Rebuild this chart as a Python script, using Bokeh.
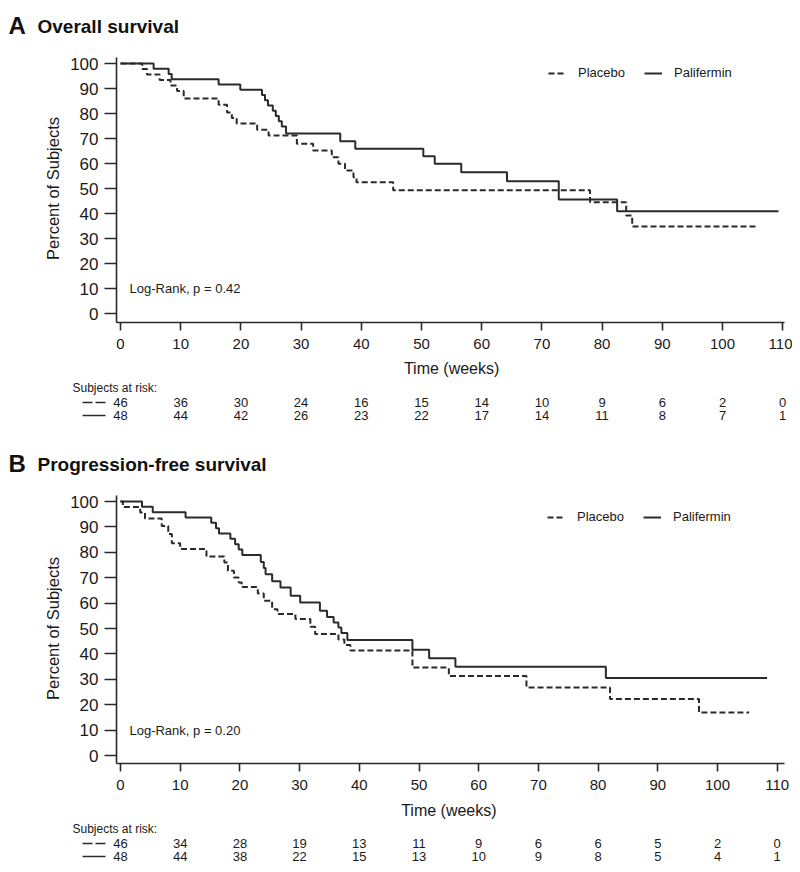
import math
from bokeh.plotting import figure
from bokeh.models import Range1d, Legend, LegendItem, Label, FixedTicker
from bokeh.layouts import column
from bokeh.embed import file_html
from bokeh.resources import INLINE
from bokeh.core.properties import value

FONT = "Liberation Sans"
INK = "#2a2a2a"
TXT = "#1a1a1a"

# ---------------- data ----------------
week_ticks = [0, 10, 20, 30, 40, 50, 60, 70, 80, 90, 100, 110]
pct_ticks = [0, 10, 20, 30, 40, 50, 60, 70, 80, 90, 100]

# Panel A - overall survival (step times in weeks, percent surviving)
a_pla_t = [0, 3.6, 4.4, 6.5, 8.3, 9.4, 10.5, 16.3, 17.7, 18.5, 19.3, 22.7, 24.6,
           29.3, 32.0, 35.1, 36.2, 37.3, 38.7, 39.2, 45.3, 78.0, 84.0, 85.0]
a_pla_s = [100, 97.8, 95.6, 93.4, 91.2, 89.0, 86.0, 83.5, 80.4, 78.2, 76.0, 73.5, 71.2,
           67.9, 65.2, 62.5, 59.9, 57.2, 54.5, 52.5, 49.3, 44.5, 39.2, 34.8]
a_pla_end = 105.6
a_pal_t = [0, 5.5, 8.0, 8.5, 16.3, 19.9, 23.5, 24.0, 24.5, 25.3, 25.8, 26.3, 26.8,
           27.5, 36.5, 39.0, 50.3, 52.2, 56.6, 64.2, 72.8, 82.5]
a_pal_s = [100, 97.9, 95.8, 93.7, 91.6, 89.5, 87.4, 85.3, 83.2, 81.1, 79.0, 76.9, 74.8,
           72.0, 68.9, 65.9, 62.9, 59.9, 56.5, 52.9, 45.6, 40.9]
a_pal_end = 109.3
a_risk_pla = [46, 36, 30, 24, 16, 15, 14, 10, 9, 6, 2, 0]
a_risk_pal = [48, 44, 42, 26, 23, 22, 17, 14, 11, 8, 7, 1]

# Panel B - progression-free survival
b_pla_t = [0, 0.4, 3.3, 4.1, 6.9, 8.0, 8.6, 10.0, 14.4, 17.4, 18.0, 19.0, 19.8, 20.3,
           23.0, 24.0, 25.4, 26.3, 29.3, 31.8, 32.6, 36.5, 37.5, 38.5, 48.9, 55.0,
           68.0, 82.0, 96.9]
b_pla_s = [100, 97.8, 95.7, 93.3, 90.4, 87.2, 83.6, 81.3, 78.3, 76.0, 72.7, 70.1, 68.1,
           66.3, 63.8, 60.9, 57.6, 55.7, 53.7, 50.7, 47.8, 45.7, 43.5, 41.3, 34.6, 31.3,
           26.8, 22.2, 16.9]
b_pla_end = 105.3
b_pal_t = [0, 3.6, 5.4, 10.9, 15.2, 16.0, 16.5, 18.4, 19.2, 19.8, 20.4, 23.5, 24.0,
           24.3, 25.4, 26.8, 28.5, 30.1, 33.4, 34.6, 35.7, 36.5, 37.0, 38.0, 48.9, 51.7,
           56.1, 81.3]
b_pal_s = [100, 97.9, 95.8, 93.7, 91.6, 89.5, 87.4, 85.3, 83.2, 81.1, 78.9, 76.2, 73.8,
           71.4, 68.6, 66.1, 62.9, 60.2, 57.0, 54.5, 52.4, 50.4, 48.2, 45.5, 41.6, 38.3,
           34.9, 30.5]
b_pal_end = 108.3
b_risk_pla = [46, 34, 28, 19, 13, 11, 9, 6, 6, 5, 2, 0]
b_risk_pal = [48, 44, 38, 22, 15, 13, 10, 9, 8, 5, 4, 1]

# ---------------- layout geometry (pixels inside each panel figure) ----------------
W = 792
AX_LEFT = 116       # x of the y-axis line
AX_RIGHT = 784      # right end of the x-axis line
ZERO_PX = 120       # x of week 0
DASH = "6 3"


def extend(t, s, end):
    return list(t) + [end], list(s) + [s[-1]]


def make_panel(letter, title, h, ppw, y100, y0, ax_top, ax_bottom,
               pla, pal, risk_pla, risk_pal, logrank, leg_xy, title_y, time_y, rows_y):
    ppp = (y0 - y100) / 100.0

    def px2wk(sx):
        return (sx - ZERO_PX) / ppw

    def py2pct(sy):
        return 100 - (sy - y100) / ppp

    p = figure(width=W, height=h, output_backend="svg", toolbar_location=None,
               x_range=Range1d(px2wk(0), px2wk(W)), y_range=Range1d(py2pct(h), py2pct(0)),
               min_border=0)
    p.outline_line_color = None
    p.grid.visible = False

    px, py = extend(*pla)
    qx, qy = extend(*pal)
    r_pla = p.step(px, py, mode="after", line_color=INK, line_width=2, line_dash=DASH)
    r_pal = p.step(qx, qy, mode="after", line_color=INK, line_width=2)

    x_lo, x_hi = px2wk(AX_LEFT), px2wk(AX_RIGHT)
    y_lo, y_hi = py2pct(ax_bottom), py2pct(ax_top)
    for ax in (p.xaxis, p.yaxis):
        ax.axis_line_color = INK
        ax.axis_line_width = 1.6
        ax.major_tick_line_color = INK
        ax.major_tick_line_width = 1.6
        ax.minor_tick_line_color = None
        ax.major_tick_in = 0
        ax.major_label_text_font = FONT
        ax.major_label_text_color = TXT

    p.xaxis.ticker = FixedTicker(ticks=week_ticks)
    p.xaxis.fixed_location = y_lo
    p.xaxis.bounds = (x_lo, x_hi)
    p.xaxis.major_tick_out = 8
    p.xaxis.major_label_standoff = 8
    p.xaxis.major_label_text_font_size = "15px"

    p.yaxis.ticker = FixedTicker(ticks=pct_ticks)
    p.yaxis.fixed_location = x_lo
    p.yaxis.bounds = (y_lo, y_hi)
    p.yaxis.major_tick_out = 12
    p.yaxis.major_label_standoff = 6
    p.yaxis.major_label_text_font_size = "17px"

    # axis titles
    p.text(x=[px2wk(52)], y=[50], text=["Percent of Subjects"], angle=math.pi / 2,
           text_font=value(FONT), text_font_size="16.5px", text_align="center",
           text_baseline="middle", text_color=TXT)
    p.text(x=[55], y=[py2pct(time_y)], text=["Time (weeks)"], text_font=value(FONT),
           text_font_size="16px", text_align="center", text_baseline="middle",
           text_color=TXT)

    legend = Legend(items=[LegendItem(label="Placebo", renderers=[r_pla]),
                           LegendItem(label="Palifermin", renderers=[r_pal])],
                    orientation="horizontal", location=leg_xy, padding=0, margin=0,
                    spacing=19, glyph_width=18, glyph_height=14, label_height=14,
                    label_standoff=12, label_text_font=FONT, label_text_font_size="13px",
                    label_text_color=TXT, border_line_alpha=0, background_fill_alpha=0)
    p.add_layout(legend)

    p.add_layout(Label(x=1.5, y=10, text=logrank, text_font=FONT, text_font_size="13px",
                       text_baseline="middle", text_color=TXT))

    # panel title
    p.text(x=[px2wk(8)], y=[py2pct(title_y)], text=[letter], text_font=value(FONT),
           text_font_style="bold", text_font_size="24px", text_baseline="middle",
           text_color="#111111")
    p.text(x=[px2wk(37)], y=[py2pct(title_y + 1)], text=[title], text_font=value(FONT),
           text_font_style="bold", text_font_size="19px", text_baseline="middle",
           text_color="#111111")

    # subjects at risk table
    hy, r1, r2 = [py2pct(v) for v in rows_y]
    p.text(x=[px2wk(72)], y=[hy], text=["Subjects at risk:"], text_font=value(FONT),
           text_font_size="12px", text_baseline="middle", text_color=TXT)
    for row_y, counts in ((r1, risk_pla), (r2, risk_pal)):
        p.text(x=week_ticks, y=[row_y] * len(week_ticks), text=[str(v) for v in counts],
               text_font=value(FONT), text_font_size="13px", text_align="center",
               text_baseline="middle", text_color=TXT)
    sx0, sx1 = px2wk(82), px2wk(105)
    p.segment(x0=[sx0], y0=[r1], x1=[sx1], y1=[r1], line_color=INK, line_width=1.6,
              line_dash="10 3")
    p.segment(x0=[sx0], y0=[r2], x1=[sx1], y1=[r2], line_color=INK, line_width=1.6)
    return p


HA = 438
HB = 430
pA = make_panel("A", "Overall survival", HA, 6.02, 63, 313, 57, 322,
                (a_pla_t, a_pla_s, a_pla_end), (a_pal_t, a_pal_s, a_pal_end),
                a_risk_pla, a_risk_pal, "Log-Rank, p = 0.42", (548, HA - 80),
                25, 368, (387, 402, 415))
pB = make_panel("B", "Progression-free survival", HB, 5.97, 63, 317, 57, 325,
                (b_pla_t, b_pla_s, b_pla_end), (b_pal_t, b_pal_s, b_pal_end),
                b_risk_pla, b_risk_pal, "Log-Rank, p = 0.20", (547, HB - 86),
                25, 372, (390, 405, 418))

layout = column(pA, pB, spacing=0)
open("out.html", "w").write(file_html(layout, INLINE, title="Kaplan-Meier"))
